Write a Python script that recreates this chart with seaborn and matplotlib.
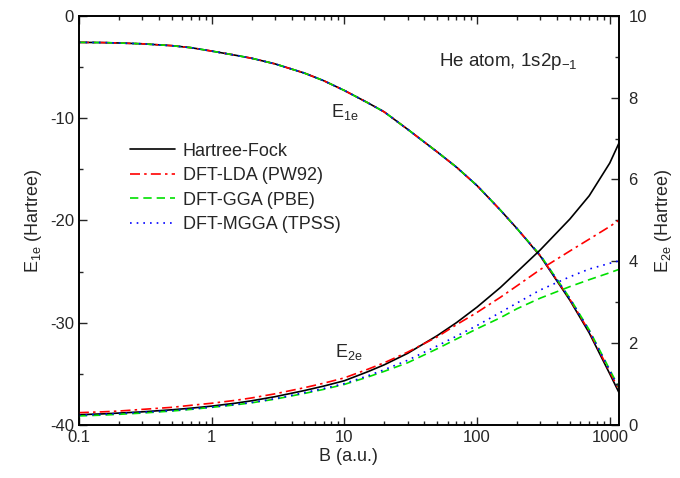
import numpy as np
import pandas as pd
import matplotlib
matplotlib.use("Agg")
import matplotlib.pyplot as plt
from matplotlib.ticker import MultipleLocator, FuncFormatter, LogLocator, NullFormatter
import seaborn as sns

# field strength grid (a.u.)
B = [0.1, 0.15, 0.2, 0.3, 0.5, 0.7, 1, 1.5, 2, 3, 5, 7, 10, 15, 20, 30, 50, 70,
     100, 150, 200, 300, 500, 700, 1000, 1170]

# one-electron energy E1e (Hartree), left axis
e1e_hf = [-2.60, -2.62, -2.66, -2.74, -2.92, -3.12, -3.45, -3.85, -4.15, -4.7, -5.6, -6.35,
          -7.3, -8.5, -9.4, -11.1, -13.3, -14.8, -16.6, -19.0, -20.8, -23.5, -27.8, -31.0,
          -35.0, -36.8]
e1e_lda = [-2.60, -2.62, -2.66, -2.74, -2.92, -3.12, -3.45, -3.85, -4.15, -4.7, -5.6, -6.35,
           -7.3, -8.5, -9.4, -11.1, -13.3, -14.8, -16.6, -19.0, -20.8, -23.45, -27.7, -30.85,
           -34.8, -36.55]
e1e_gga = [-2.60, -2.62, -2.66, -2.74, -2.92, -3.12, -3.45, -3.85, -4.15, -4.7, -5.6, -6.35,
           -7.3, -8.5, -9.4, -11.1, -13.3, -14.8, -16.6, -19.0, -20.8, -23.4, -27.6, -30.7,
           -34.6, -36.3]
e1e_mgga = [-2.60, -2.62, -2.66, -2.74, -2.92, -3.12, -3.45, -3.85, -4.15, -4.7, -5.6, -6.35,
            -7.3, -8.5, -9.4, -11.1, -13.3, -14.8, -16.6, -19.0, -20.8, -23.45, -27.65, -30.8,
            -34.7, -36.45]

# two-electron energy E2e (Hartree), right axis
e2e_hf = [0.25, 0.27, 0.29, 0.32, 0.37, 0.41, 0.46, 0.53, 0.59, 0.69, 0.84, 0.95, 1.08,
          1.30, 1.47, 1.75, 2.18, 2.50, 2.88, 3.36, 3.74, 4.28, 5.03, 5.60, 6.40, 6.88]
e2e_lda = [0.30, 0.32, 0.34, 0.38, 0.43, 0.48, 0.53, 0.60, 0.66, 0.76, 0.91, 1.02, 1.15,
           1.36, 1.52, 1.78, 2.15, 2.45, 2.75, 3.12, 3.40, 3.80, 4.25, 4.54, 4.85, 5.0]
e2e_gga = [0.22, 0.24, 0.26, 0.29, 0.34, 0.38, 0.43, 0.49, 0.54, 0.63, 0.77, 0.87, 0.99,
           1.17, 1.31, 1.52, 1.86, 2.10, 2.35, 2.62, 2.84, 3.10, 3.38, 3.55, 3.72, 3.80]
e2e_mgga = [0.24, 0.26, 0.28, 0.31, 0.35, 0.39, 0.44, 0.50, 0.55, 0.64, 0.79, 0.89, 1.01,
            1.20, 1.35, 1.58, 1.93, 2.17, 2.43, 2.75, 2.98, 3.30, 3.62, 3.81, 3.95, 4.01]

methods = ["Hartree-Fock", "DFT-LDA (PW92)", "DFT-GGA (PBE)", "DFT-MGGA (TPSS)"]
colors = ["black", "#ff0000", "#00e000", "#0000ff"]
styles = ["-", (0, (6, 2.5, 1.5, 2.5)), (0, (5, 3)), (0, (1, 3))]
e1e = [e1e_hf, e1e_lda, e1e_gga, e1e_mgga]
e2e = [e2e_hf, e2e_lda, e2e_gga, e2e_mgga]

sns.set_style("ticks")
plt.rcParams["font.family"] = ["Liberation Sans", "DejaVu Sans"]
plt.rcParams["mathtext.default"] = "regular"
plt.rcParams["axes.unicode_minus"] = False
plt.rcParams["font.size"] = 12

fig = plt.figure(figsize=(6.8, 4.78), dpi=100)
ax = fig.add_axes([0.116, 0.111, 0.794, 0.856])
ax2 = ax.twinx()

for name, c, ls, y1, y2 in zip(methods, colors, styles, e1e, e2e):
    df = pd.DataFrame({"B": B, "E1e": y1, "E2e": y2})
    sns.lineplot(data=df, x="B", y="E1e", ax=ax, color=c, linestyle=ls, lw=1.2, label=name)
    sns.lineplot(data=df, x="B", y="E2e", ax=ax2, color=c, linestyle=ls, lw=1.2, legend=False)

ax.set_xscale("log")
ax.set_xlim(0.1, 1170)
ax.set_ylim(-40, 0)
ax2.set_ylim(0, 10)

ax.xaxis.set_major_locator(LogLocator(base=10))
ax.xaxis.set_minor_locator(LogLocator(base=10, subs=np.arange(2, 10)))
ax.xaxis.set_major_formatter(FuncFormatter(lambda v, p: f"{v:g}"))
ax.xaxis.set_minor_formatter(NullFormatter())
ax.yaxis.set_major_locator(MultipleLocator(10))
ax.yaxis.set_minor_locator(MultipleLocator(5))
ax2.yaxis.set_major_locator(MultipleLocator(2))
ax2.yaxis.set_minor_locator(MultipleLocator(1))

ax.tick_params(which="both", direction="in", top=True, right=False, labelsize=12, width=1)
ax.tick_params(which="major", length=6)
ax.tick_params(which="minor", length=3)
ax2.tick_params(which="both", direction="in", labelsize=12, width=1, pad=7)
ax2.tick_params(which="major", length=6)
ax2.tick_params(which="minor", length=3)
for a in (ax, ax2):
    for s in a.spines.values():
        s.set_linewidth(1.2)
        s.set_color("black")
        s.set_visible(True)

ax.set_xlabel("B (a.u.)", fontsize=13, labelpad=2)
ax.set_ylabel("E$_{1e}$ (Hartree)", fontsize=13, labelpad=4)
ax2.set_ylabel("E$_{2e}$ (Hartree)", fontsize=13, labelpad=4)

ax.text(8.0, -9.4, "E$_{1e}$", fontsize=13, va="center")
ax.text(8.5, -32.9, "E$_{2e}$", fontsize=13, va="center")
ax.text(52, -4.5, "He atom, 1s2p$_{-1}$", fontsize=13.5, va="center")

ax.legend(loc="upper left", bbox_to_anchor=(0.094, 0.69), frameon=False, fontsize=13,
          handlelength=2.5, handletextpad=0.45, labelspacing=0.42, borderpad=0, borderaxespad=0)

fig.savefig("out.png", dpi=100)
